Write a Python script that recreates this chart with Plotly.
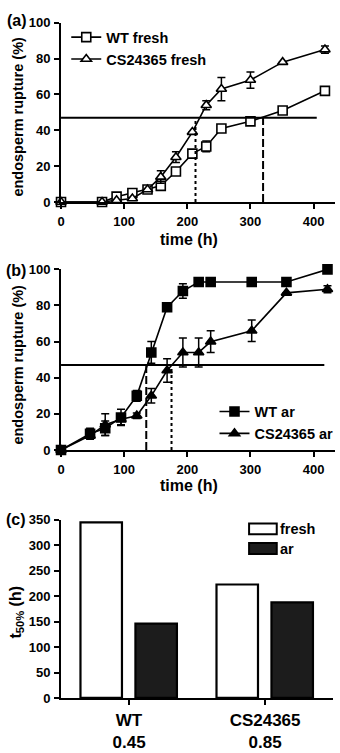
import plotly.graph_objects as go

# ---------------- data ----------------
# (a) fresh seeds: endosperm rupture over time
t_fresh = [0, 65, 88, 113, 137, 158, 182, 208, 230, 254, 300, 351, 418]
wt_fresh = [0, 0, 3, 5, 7, 9, 17, 27, 31, 41, 45, 51, 62]
wt_fresh_err = [0, 0, 0, 0, 0, 0, 0, 0, 3, 0, 0, 0, 0]
cs_fresh = [0, 0, 1, 2, 7, 14, 25, 39, 54, 63, 68, 78, 85]
cs_fresh_err = [0, 0, 0, 0, 0, 3.5, 3, 0, 2.5, 6.5, 4.5, 0, 2]

# (b) after-ripened seeds
t_ar = [0, 46, 70, 95, 120, 143, 168, 193, 218, 237, 302, 357, 422]
wt_ar = [0, 9, 12, 18, 30, 54, 79, 88, 93, 93, 93, 93, 100]
wt_ar_err = [0, 3, 4, 4.5, 3, 6, 0, 4, 0, 0, 0, 0, 0]
cs_ar = [0, 8, 14, 17, 19, 30, 44, 54, 54, 60, 66, 87, 89]
cs_ar_err = [0, 0, 6, 3, 1.5, 4, 6.5, 8, 8, 6, 6, 0, 2]

# 50 % reference level and the times where each curve crosses it
threshold = 47
hline_end = {"a": 405, "b": 417}
t50_lines_a = {"WT": 320, "CS24365": 213}
t50_lines_b = {"WT": 135, "CS24365": 175}

# (c) t50 summary
genotypes = ["WT", "CS24365"]
ratios = ["0.45", "0.85"]
t50_fresh = [345, 223]
t50_ar = [146, 188]

# ---------------- layout helpers ----------------
W, H = 340, 753


def px(x):
    return x / W


def py(y):
    return 1 - y / H


FONT = "Liberation Sans, Arial, Helvetica, sans-serif"
BLACK = "#000000"
DARK = "#1c1c1c"

fig = go.Figure()


def curve(x, y, err, name, symbol, fill, xa, ya, legend):
    fig.add_trace(go.Scatter(
        x=x, y=y, name=name, mode="lines+markers",
        xaxis=xa, yaxis=ya, legend=legend, cliponaxis=False,
        line=dict(color=BLACK, width=1.6),
        marker=dict(symbol=symbol, size=9, color=fill,
                    line=dict(color=BLACK, width=1.6)),
        error_y=dict(type="data", array=err, visible=True,
                     color=BLACK, thickness=1.5, width=4),
        hoverinfo="skip",
    ))


curve(t_fresh, wt_fresh, wt_fresh_err, "WT fresh", "square", "white", "x", "y", "legend")
curve(t_fresh, cs_fresh, cs_fresh_err, "CS24365 fresh", "triangle-up", "white", "x", "y", "legend")
curve(t_ar, wt_ar, wt_ar_err, "WT ar", "square", BLACK, "x2", "y2", "legend2")
curve(t_ar, cs_ar, cs_ar_err, "CS24365 ar", "triangle-up", BLACK, "x2", "y2", "legend2")

# (c) bars
fig.add_trace(go.Bar(
    x=[0, 1], y=t50_fresh, name="fresh", xaxis="x3", yaxis="y3",
    width=0.305, offset=-0.357, showlegend=False,
    marker=dict(color="white", line=dict(color=BLACK, width=2.2)),
    hoverinfo="skip",
))
fig.add_trace(go.Bar(
    x=[0, 1], y=t50_ar, name="ar", xaxis="x3", yaxis="y3",
    width=0.305, offset=0.047, showlegend=False,
    marker=dict(color=DARK, line=dict(color=BLACK, width=2.2)),
    hoverinfo="skip",
))

# threshold and t50 guide lines
shapes = []
for xr, yr, key, lines in (("x", "y", "a", t50_lines_a), ("x2", "y2", "b", t50_lines_b)):
    shapes.append(dict(type="line", xref=xr, yref=yr, x0=0, x1=hline_end[key],
                       y0=threshold, y1=threshold, line=dict(color=BLACK, width=2)))
    shapes.append(dict(type="line", xref=xr, yref=yr, x0=lines["WT"], x1=lines["WT"],
                       y0=0, y1=threshold, line=dict(color=BLACK, width=2, dash="8px,3px")))
    shapes.append(dict(type="line", xref=xr, yref=yr, x0=lines["CS24365"], x1=lines["CS24365"],
                       y0=0, y1=threshold, line=dict(color=BLACK, width=2, dash="3px,3px")))

# (c) legend swatches
for top, fill in ((527, "white"), (547, DARK)):
    shapes.append(dict(type="rect", xref="paper", yref="paper",
                       x0=px(248), x1=px(276), y0=py(top + 11), y1=py(top),
                       fillcolor=fill, line=dict(color=BLACK, width=2)))

axis_common = dict(
    showline=True, linewidth=2, linecolor=BLACK, mirror=False,
    ticks="outside", ticklen=5, tickwidth=2, tickcolor=BLACK,
    showgrid=False, zeroline=False, ticklabelstandoff=1,
    tickfont=dict(family=FONT, size=13, color=BLACK, weight="bold"),
)

x_dom = [px(57.7), px(335)]
fig.update_layout(
    width=W, height=H, margin=dict(l=0, r=0, t=0, b=0),
    paper_bgcolor="white", plot_bgcolor="white",
    barmode="overlay",
    xaxis=dict(domain=x_dom, range=[0, 434], anchor="y",
               tickvals=[0, 100, 200, 300, 400], **axis_common),
    yaxis=dict(domain=[py(199), py(16)], range=[0, 100], anchor="x",
               tickvals=[0, 20, 40, 60, 80, 100], **axis_common),
    xaxis2=dict(domain=x_dom, range=[0, 434], anchor="y2",
                tickvals=[0, 100, 200, 300, 400], **axis_common),
    yaxis2=dict(domain=[py(452), py(267.7)], range=[0, 100], anchor="x2",
                tickvals=[0, 20, 40, 60, 80, 100], **axis_common),
    xaxis3=dict(domain=[px(57.7), px(333)], range=[-0.5, 1.5], anchor="y3",
                tickvals=[0, 1],
                ticktext=[f"{g}<br>{r}" for g, r in zip(genotypes, ratios)],
                **{**axis_common,
                   "tickfont": dict(family=FONT, size=17, color=BLACK, weight="bold")}),
    yaxis3=dict(domain=[py(705), py(523.3)], range=[0, 350], anchor="x3",
                tickvals=[0, 50, 100, 150, 200, 250, 300, 350], **axis_common),
    legend=dict(x=px(63), y=py(14.5), xanchor="left", yanchor="top",
                bgcolor="rgba(0,0,0,0)", borderwidth=0, tracegroupgap=0,
                font=dict(family=FONT, size=14.5, color=BLACK, weight="bold")),
    legend2=dict(x=px(213), y=py(396.5), xanchor="left", yanchor="top",
                 bgcolor="rgba(0,0,0,0)", borderwidth=0, tracegroupgap=0,
                 font=dict(family=FONT, size=14.5, color=BLACK, weight="bold")),
    shapes=shapes,
    showlegend=True,
)

ann_font = dict(family=FONT, size=14.5, color=BLACK, weight="bold")
annotations = [
    dict(text="(a)", x=px(13), y=py(14), font=dict(family=FONT, size=16, color=BLACK, weight="bold")),
    dict(text="(b)", x=px(12.5), y=py(268.5), font=dict(family=FONT, size=16, color=BLACK, weight="bold")),
    dict(text="(c)", x=px(12.5), y=py(523), font=dict(family=FONT, size=16, color=BLACK, weight="bold")),
    dict(text="time (h)", x=px(187.5), y=py(237), font=dict(family=FONT, size=16, color=BLACK, weight="bold")),
    dict(text="time (h)", x=px(187.5), y=py(488), font=dict(family=FONT, size=16, color=BLACK, weight="bold")),
    dict(text="endosperm rupture (%)", x=px(14), y=py(112), textangle=-90),
    dict(text="endosperm rupture (%)", x=px(14), y=py(365), textangle=-90),
    dict(text="t<sub>50%</sub> (h)", x=px(13), y=py(617), textangle=-90,
         font=dict(family=FONT, size=16, color=BLACK, weight="bold")),
    dict(text="fresh", x=px(277), y=py(532.5), xanchor="left"),
    dict(text="ar", x=px(277), y=py(553), xanchor="left"),
]
for a in annotations:
    a.setdefault("xanchor", "center")
    a.setdefault("yanchor", "middle")
    a.setdefault("font", ann_font)
    fig.add_annotation(xref="paper", yref="paper", showarrow=False, **a)

fig.write_html("out.html")
